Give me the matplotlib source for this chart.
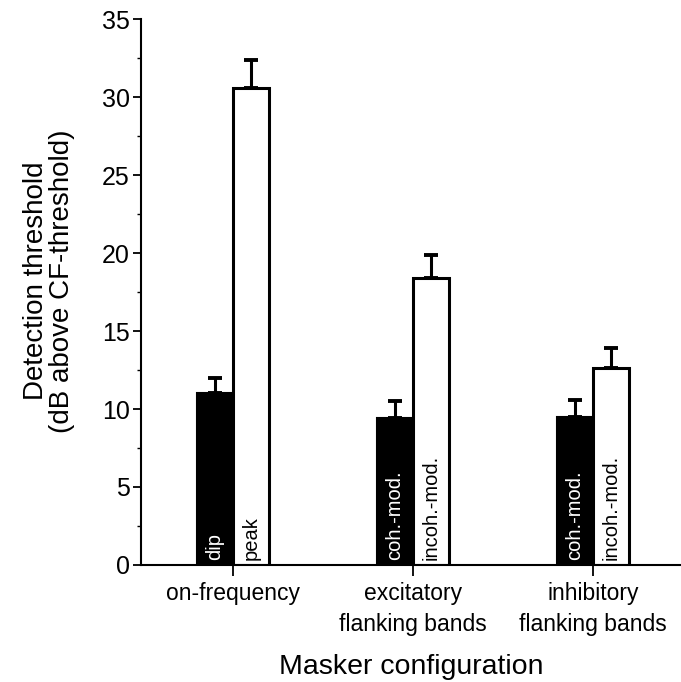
import matplotlib
matplotlib.use("Agg")
import matplotlib.pyplot as plt
import numpy as np
from matplotlib.ticker import MultipleLocator

plt.rcParams['font.family'] = ['Liberation Sans', 'DejaVu Sans']

categories = ["on-frequency", "excitatory\nflanking bands", "inhibitory\nflanking bands"]
dark_labels = ["dip", "coh.-mod.", "coh.-mod."]
light_labels = ["peak", "incoh.-mod.", "incoh.-mod."]
dark_values = [11.0, 9.4, 9.5]
dark_errors = [1.0, 1.1, 1.1]
light_values = [30.6, 18.4, 12.6]
light_errors = [1.8, 1.5, 1.3]

fig = plt.figure(figsize=(6.81, 6.82), dpi=100)
ax = fig.add_axes([0.207, 0.1716, 0.793, 0.8004])

x = np.arange(len(categories))
w = 0.2
ax.bar(x - w/2, dark_values, width=w, color="black", edgecolor="black", linewidth=1.5, zorder=2)
ax.bar(x + w/2, light_values, width=w, color="white", edgecolor="black", linewidth=2.2, zorder=2)
ax.errorbar(x - w/2, dark_values, yerr=[np.zeros(3), dark_errors], fmt="none",
            ecolor="black", elinewidth=2.2, capsize=5, capthick=2.8, zorder=3)
ax.errorbar(x + w/2, light_values, yerr=[np.zeros(3), light_errors], fmt="none",
            ecolor="black", elinewidth=2.2, capsize=5, capthick=2.8, zorder=3)

for xi, lab in zip(x - w/2, dark_labels):
    ax.text(xi, 0.35, lab, rotation=90, ha="center", va="bottom", color="white", fontsize=14.5, zorder=4)
for xi, lab in zip(x + w/2, light_labels):
    ax.text(xi, 0.35, lab, rotation=90, ha="center", va="bottom", color="black", fontsize=14.5, zorder=4)

ax.set_xlim(-0.51, 2.49)
ax.set_ylim(0, 35)
ax.yaxis.set_major_locator(MultipleLocator(5))
ax.yaxis.set_minor_locator(MultipleLocator(2.5))
ax.set_xticks(x)
ax.set_xticklabels(categories, fontsize=16.5, linespacing=1.45)
ax.tick_params(axis="y", which="major", direction="out", length=6, width=1.3, labelsize=18, pad=2)
ax.tick_params(axis="y", which="minor", direction="out", length=3, width=1.0)
ax.tick_params(axis="x", which="major", direction="out", length=8, width=1.3, pad=4)
for s in ["top", "right"]:
    ax.spines[s].set_visible(False)
for s in ["left", "bottom"]:
    ax.spines[s].set_linewidth(1.5)

ax.set_ylabel("Detection threshold\n(dB above CF-threshold)", fontsize=20, linespacing=1.0)
ax.yaxis.set_label_coords(-0.123, 0.52)
ax.set_xlabel("Masker configuration", fontsize=20.5, labelpad=13)

fig.savefig("out.png", dpi=100)
